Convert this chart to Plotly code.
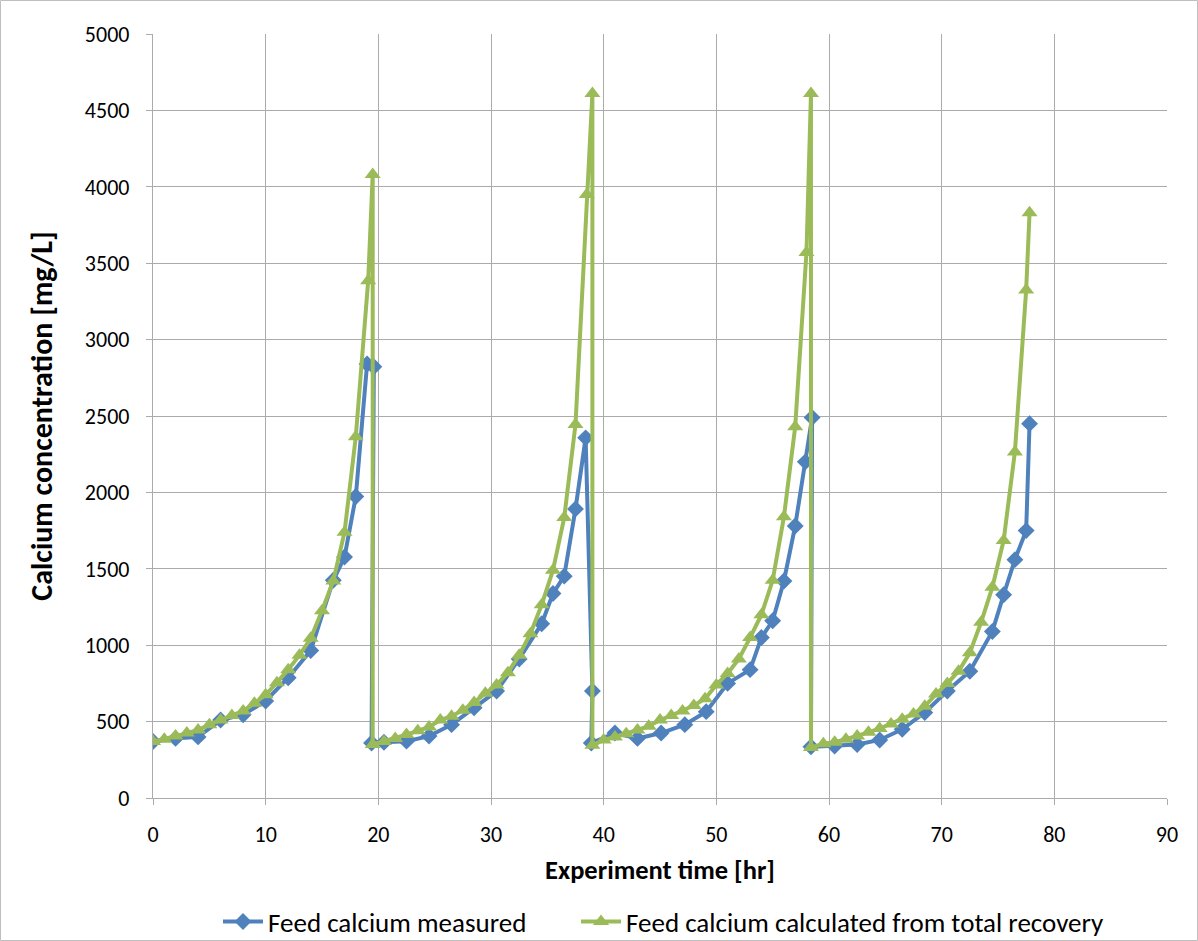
import plotly.graph_objects as go

# Feed calcium measured (time hr, concentration mg/L)
measured_t = [0, 2, 4, 6, 8, 10, 12, 14, 16, 17, 18, 19, 19.6,
              19.4, 20.5, 22.5, 24.5, 26.5, 28.5, 30.5, 32.5, 34.5, 35.5, 36.5, 37.5, 38.4, 39.0,
              38.9, 41.0, 43.0, 45.1, 47.2, 49.1, 51.0, 53.0, 54.0, 55.0, 56.0, 57.0, 57.9, 58.5,
              58.4, 60.5, 62.5, 64.5, 66.5, 68.5, 70.5, 72.5, 74.5, 75.5, 76.5, 77.5, 77.8]
measured_v = [370, 390, 400, 510, 545, 635, 787, 965, 1425, 1577, 1973, 2840, 2822,
              360, 365, 372, 405, 480, 590, 700, 910, 1140, 1338, 1452, 1892, 2357, 700,
              360, 425, 390, 425, 480, 565, 750, 840, 1050, 1160, 1420, 1780, 2200, 2490,
              335, 340, 350, 380, 450, 560, 700, 830, 1090, 1330, 1560, 1750, 2450]

# Feed calcium calculated from total recovery
calc_t = [0, 1, 2, 3, 4, 5, 6, 7, 8, 9, 10, 11, 12, 13, 14, 15, 16, 17, 18, 19.1, 19.5,
          19.5, 20.5, 21.5, 22.5, 23.5, 24.5, 25.5, 26.5, 27.5, 28.5, 29.5, 30.5, 31.5, 32.5,
          33.5, 34.5, 35.5, 36.5, 37.5, 38.5, 39.0,
          39.0, 40, 41, 42, 43, 44, 45, 46, 47, 48, 49, 50, 51, 52, 53, 54, 55, 56, 57, 58, 58.4,
          58.4, 59.5, 60.5, 61.5, 62.5, 63.5, 64.5, 65.5, 66.5, 67.5, 68.5, 69.5, 70.5, 71.5,
          72.5, 73.5, 74.5, 75.5, 76.5, 77.5, 77.8]
calc_v = [370, 385, 405, 425, 445, 480, 510, 540, 570, 620, 675, 755, 840, 935, 1045, 1225, 1420, 1740, 2365, 3385, 4080,
          350, 370, 390, 415, 440, 465, 510, 535, 575, 625, 685, 740, 820, 935,
          1075, 1265, 1490, 1835, 2445, 3950, 4610,
          345, 380, 400, 420, 445, 470, 510, 540, 570, 605, 650, 740, 815, 910, 1050, 1200, 1425, 1840, 2430, 3570, 4610,
          330, 355, 365, 385, 405, 430, 455, 485, 515, 550, 600, 680, 750, 830,
          950, 1150, 1380, 1685, 2265, 3325, 3830]

x_ticks = [0, 10, 20, 30, 40, 50, 60, 70, 80, 90]
y_ticks = [0, 500, 1000, 1500, 2000, 2500, 3000, 3500, 4000, 4500, 5000]

BLUE = "#4F81BD"
GREEN = "#9BBB59"
GRID = "#ABABAB"
FONT = "Carlito, Lato, sans-serif"

fig = go.Figure()
fig.add_trace(go.Scatter(
    x=measured_t, y=measured_v, mode="lines+markers",
    name="Feed calcium measured", legend="legend",
    line=dict(color=BLUE, width=4),
    marker=dict(symbol="diamond", size=13, color=BLUE),
))
fig.add_trace(go.Scatter(
    x=calc_t, y=calc_v, mode="lines+markers",
    name="Feed calcium calculated from total recovery", legend="legend2",
    line=dict(color=GREEN, width=4),
    marker=dict(symbol="triangle-up", size=14, color=GREEN),
))

W, H = 1198, 941
L, R, T, B = 153, 31, 34, 143
pw, ph = W - L - R, H - T - B

leg_common = dict(orientation="h", xref="container", yref="container",
                  xanchor="left", y=1 - 922 / H, yanchor="middle",
                  font=dict(family=FONT, size=27), itemwidth=40, bgcolor="rgba(0,0,0,0)")

fig.update_layout(
    width=W, height=H,
    margin=dict(l=L, r=R, t=T, b=B, pad=0, autoexpand=False),
    paper_bgcolor="white", plot_bgcolor="white",
    font=dict(family=FONT, size=22, color="black"),
    showlegend=True,
    legend=dict(x=218 / W, **leg_common),
    legend2=dict(x=576 / W, **leg_common),
    xaxis=dict(range=[0, 90], tickvals=x_ticks, ticktext=[str(v) for v in x_ticks],
               showgrid=True, gridcolor=GRID, gridwidth=1.3,
               showline=True, linecolor=GRID, linewidth=1.3,
               ticks="outside", ticklen=6, tickcolor=GRID, zeroline=False,
               ticklabelstandoff=10,
               title=dict(text="<b>Experiment time [hr]</b>", font=dict(family=FONT, size=26.5), standoff=13),
               tickfont=dict(family=FONT, size=22)),
    yaxis=dict(range=[0, 5000], tickvals=y_ticks, ticktext=[str(v) for v in y_ticks],
               showgrid=True, gridcolor=GRID, gridwidth=1.3,
               showline=True, linecolor=GRID, linewidth=1.3,
               ticks="outside", ticklen=6, tickcolor=GRID, zeroline=False,
               ticklabelstandoff=12,
               title=dict(text="<b>Calcium concentration [mg/L]</b>", font=dict(family=FONT, size=30), standoff=23),
               tickfont=dict(family=FONT, size=22)),
)

# outer chart-area border
fig.add_shape(type="rect", xref="paper", yref="paper",
              x0=(0.5 - L) / pw, x1=(W - 0.5 - L) / pw,
              y0=(H - B - (H - 0.5)) / ph, y1=(H - B - 0.5) / ph,
              line=dict(color="#BFBFBF", width=1), fillcolor="rgba(0,0,0,0)", layer="below")

fig.write_html("out.html", config={"displayModeBar": False},
               post_script="document.body.style.margin='0px';document.body.style.overflow='hidden';")
